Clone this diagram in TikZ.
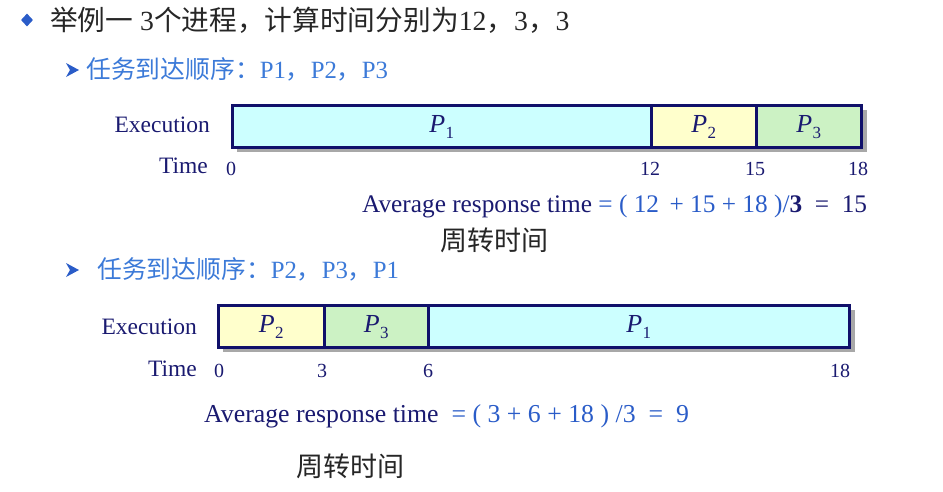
\documentclass[tikz,border=0pt]{standalone}
\usepackage{fontspec}
\setmainfont{Liberation Serif}
\newfontfamily\cjk{Noto Sans CJK SC}
\usetikzlibrary{shapes.geometric}
\definecolor{navy}{HTML}{1A1A70}
\definecolor{borderc}{HTML}{10106A}
\definecolor{bluet}{HTML}{3C7AD8}
\definecolor{bluem}{HTML}{2A5CC8}
\definecolor{titlec}{HTML}{262626}
\definecolor{cyanf}{HTML}{CCFFFF}
\definecolor{yellowf}{HTML}{FFFFCC}
\definecolor{greenf}{HTML}{CCF2C4}
\definecolor{shadowc}{HTML}{A8A8A8}
\newcommand\Plab[1]{\textit{P}\kern0.5pt\raisebox{-6pt}{\fontsize{17}{17}\selectfont #1}}
\begin{document}
\begin{tikzpicture}[x=1pt,y=-1pt,
  seg/.style={draw=borderc,line width=2.6pt,minimum height=42pt,inner sep=0pt,anchor=north west},
  plab/.style={text=navy,font=\fontsize{26}{26}\selectfont,inner sep=0pt},
  lab/.style={text=navy,font=\fontsize{23.5}{23.5}\selectfont,inner sep=0pt},
  tick/.style={text=navy,font=\fontsize{20}{20}\selectfont,inner sep=0pt},
  sub/.style={text=bluet,font=\fontsize{24.8}{24.8}\selectfont,inner sep=0pt,anchor=west},
  cn/.style={text=titlec,font=\cjk\fontsize{27}{27}\selectfont,inner sep=0pt},
  avg/.style={text=navy,inner sep=0pt,anchor=west},
  shad/.style={fill=shadowc}]
\useasboundingbox (0,0) rectangle (943,491);
% title
\node[diamond,fill=bluem,minimum width=12pt,minimum height=13pt,inner sep=0pt] (b0) at (27,20) {};
\node[anchor=west,inner sep=0pt,text=titlec,font=\fontsize{27.7}{27.7}\selectfont] (title) at (50,20)
  {{\cjk 举例一}\ 3{\cjk 个进程，计算时间分别为}12{\cjk ，}3{\cjk ，}3};
% bullet 1
\fill[bluem] (66,63) -- (79,70) -- (66,77) -- (70,70) -- cycle;
\node[sub] (s1) at (86,69) {{\cjk 任务到达顺序：}P1{\cjk ，}P2{\cjk ，}P3};
% bar 1
\fill[shad] (237,110) rectangle (867,152);
\node[seg,fill=cyanf,minimum width=419pt] (a1) at (231,104) {};
\node[seg,fill=yellowf,minimum width=105pt] (a2) at (650,104) {};
\node[seg,fill=greenf,minimum width=105pt] (a3) at (755,104) {};
\node[plab] (a1l) at ([yshift=-1pt]a1.center) {\Plab{1}};
\node[plab] (a2l) at ([yshift=-1pt]a2.center) {\Plab{2}};
\node[plab] (a3l) at ([yshift=-1pt]a3.center) {\Plab{3}};
\node[lab,anchor=east] (ex1) at (210,125) {Execution};
\node[lab,anchor=east] (tm1) at (208,166) {Time};
\node[tick] (t10) at (231,169) {0};
\node[tick] (t11) at (650,169) {12};
\node[tick] (t12) at (755,169) {15};
\node[tick] (t13) at (858,169) {18};
\node[avg,font=\fontsize{25.3}{25.3}\selectfont] (avg1) at (362,206) {Average response time {\color{bluem}= ( 12\,\ + 15 + 18 )/}\textbf{3} \ = \ 15};
\node[cn,anchor=west] (zz1) at (440,240) {周转时间};
% bullet 2
\fill[bluem] (66,263) -- (79,270) -- (66,277) -- (70,270) -- cycle;
\node[sub] (s2) at (97,269) {{\cjk 任务到达顺序：}P2{\cjk ，}P3{\cjk ，}P1};
% bar 2
\fill[shad] (223,310) rectangle (855,352);
\node[seg,fill=yellowf,minimum width=106pt] (c2) at (217,304) {};
\node[seg,fill=greenf,minimum width=104pt] (c3) at (323,304) {};
\node[seg,fill=cyanf,minimum width=421pt] (c1) at (427,304) {};
\node[plab] (c2l) at ([yshift=-1pt]c2.center) {\Plab{2}};
\node[plab] (c3l) at ([yshift=-1pt]c3.center) {\Plab{3}};
\node[plab] (c1l) at ([yshift=-1pt]c1.center) {\Plab{1}};
\node[lab,anchor=east] (ex2) at (197,327) {Execution};
\node[lab,anchor=east] (tm2) at (197,369) {Time};
\node[tick] (t20) at (219,371) {0};
\node[tick] (t21) at (322,371) {3};
\node[tick] (t22) at (428,371) {6};
\node[tick] (t23) at (840,371) {18};
\node[avg,font=\fontsize{25.8}{25.8}\selectfont] (avg2) at (204,416) {Average response time \ {\color{bluem}= ( 3 + 6 + 18 ) /3 \ = \ 9}};
\node[cn,anchor=west] (zz2) at (296,466) {周转时间};
\end{tikzpicture}
\end{document}
